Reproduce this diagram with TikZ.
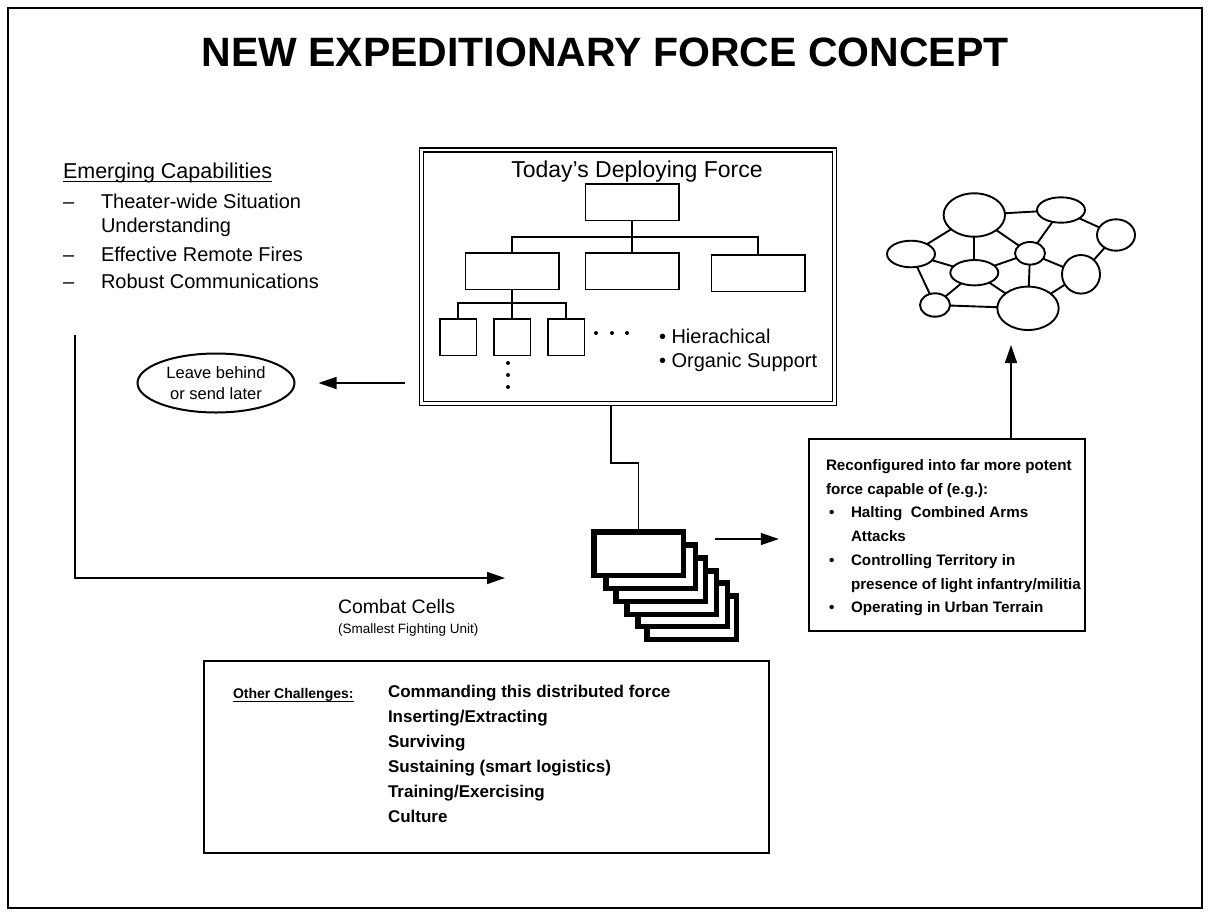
\documentclass[tikz,border=0pt]{standalone}
\usepackage{fontspec}
\setmainfont{Liberation Sans}
\usetikzlibrary{arrows.meta,shapes.geometric}
\begin{document}
\begin{tikzpicture}[x=1pt,y=-1pt,
  every node/.style={inner sep=0pt, outer sep=0pt},
  orgbox/.style={draw, line width=1.5pt, minimum width=93.5pt, minimum height=36.5pt},
  sqbox/.style={draw, line width=1.5pt, minimum width=36.5pt, minimum height=36.5pt},
  orgline/.style={line width=1.2pt},
  arr/.style={line width=1.5pt, -{Triangle[length=18pt,width=12pt]}},
  blob/.style={draw, ellipse, line width=1.9pt},
  netline/.style={line width=1.9pt},
  card/.style={draw, fill=white, line width=5.5pt, minimum width=89.5pt, minimum height=43.5pt},
  panel/.style={draw, line width=1.6pt},
  txt/.style={anchor=base west},
]
\useasboundingbox (0,0) rectangle (1210,916);
\draw[line width=2pt] (8,8) rectangle (1202,908);

% title
\node[anchor=base, font=\bfseries\fontsize{41}{49}\selectfont] (title) at (605,66) {NEW EXPEDITIONARY FORCE CONCEPT};

% emerging capabilities
\node[txt, font=\fontsize{21.5}{25}\selectfont] (ec) at (63,178) {Emerging Capabilities};
\draw[line width=1pt] ([yshift=-3.5pt]ec.base west) -- ([yshift=-3.5pt]ec.base east);
\node[txt, font=\fontsize{20}{24}\selectfont] (e1d) at (63,208) {–};
\node[txt, font=\fontsize{20}{24}\selectfont] (e1) at (101,208) {Theater-wide Situation};
\node[txt, font=\fontsize{20}{24}\selectfont] (e1b) at (101,232) {Understanding};
\node[txt, font=\fontsize{20}{24}\selectfont] (e2d) at (63,261.5) {–};
\node[txt, font=\fontsize{20}{24}\selectfont] (e2) at (101,261.5) {Effective Remote Fires};
\node[txt, font=\fontsize{20}{24}\selectfont] (e3d) at (63,288.5) {–};
\node[txt, font=\fontsize{20}{24}\selectfont] (e3) at (101,288.5) {Robust Communications};

% today's deploying force
\node[draw, double, line width=1.5pt, double distance=2.5pt, minimum width=413pt, minimum height=253.5pt] (today) at (628,276.5) {};
\node[anchor=base, font=\fontsize{23}{28}\selectfont] (todaytitle) at (637,177) {Today’s Deploying Force};
\node[orgbox] (top) at (632,202) {};
\node[orgbox] (m1) at (512,271) {};
\node[orgbox] (m2) at (632,271) {};
\node[orgbox] (m3) at (758,273) {};
\node[sqbox] (s1) at (458,337) {};
\node[sqbox] (s2) at (512,337) {};
\node[sqbox] (s3) at (566,337) {};
\coordinate (bus1) at (0,237);
\coordinate (bus2) at (0,303);
\draw[orgline] (top.south) -- (top.south |- bus1);
\draw[orgline] (m1.north) |- (m3.north |- bus1) -- (m3.north);
\draw[orgline] (m2.north) -- (m2.north |- bus1);
\draw[orgline] (m1.south) -- (m1.south |- bus2);
\draw[orgline] (s1.north) |- (s3.north |- bus2) -- (s3.north);
\draw[orgline] (s2.north) -- (s2.north |- bus2);
\fill (596,333) circle (2pt) (612,333) circle (2pt) (627,333) circle (2pt);
\fill (508,363) circle (2pt) (508,375) circle (2pt) (508,387) circle (2pt);
\node[txt, font=\fontsize{20}{24}\selectfont] (b1) at (659,343) {\textbullet\ Hierachical};
\node[txt, font=\fontsize{20}{24}\selectfont] (b2) at (659,367) {\textbullet\ Organic Support};

% leave behind
\node[blob, line width=2pt, minimum width=157pt, minimum height=59pt, align=center, font=\fontsize{16.5}{21}\selectfont] (leave) at (216,383) {Leave behind\\or send later};
\draw[arr, shorten <=16.5pt, shorten >=24pt] (today.west |- leave) -- (leave.east);

% network
\node[blob, minimum width=61.4pt, minimum height=43.4pt] (n1) at (974.3,215) {};
\node[blob, minimum width=48pt, minimum height=25.4pt] (n2) at (1061,210) {};
\node[blob, minimum width=38pt, minimum height=31.4pt] (n3) at (1116,235) {};
\node[blob, minimum width=48pt, minimum height=26.6pt] (n4) at (911,254) {};
\node[blob, minimum width=30pt, minimum height=22.6pt] (n5) at (1030,253.3) {};
\node[blob, minimum width=48pt, minimum height=25.4pt] (n6) at (974.3,272.7) {};
\node[blob, minimum width=38pt, minimum height=38.6pt] (n7) at (1081,274.3) {};
\node[blob, minimum width=30pt, minimum height=23.4pt] (n8) at (935,305) {};
\node[blob, minimum width=61.4pt, minimum height=43.4pt] (n9) at (1028,308.3) {};
\foreach \a/\b in {n1/n2,n1/n4,n1/n6,n1/n5,n2/n5,n2/n3,n3/n7,n4/n6,n4/n8,n6/n5,n6/n8,n6/n9,n5/n9,n5/n7,n7/n9,n8/n9}
  \draw[netline] (\a) -- (\b);

% combat cells
\coordinate (lstart) at (75,335);
\coordinate (ltip) at (505,578);
\draw[arr] (lstart) |- (ltip);
\node[txt, font=\fontsize{19.5}{23}\selectfont] (cc) at (338,613) {Combat Cells};
\node[txt, font=\fontsize{13.5}{16}\selectfont] (ccs) at (338,633) {(Smallest Fighting Unit)};

\node[card] (c5) at (691.5,617.5) {};
\node[card] (c4) at (682.5,604.5) {};
\node[card] (c3) at (671.5,592.5) {};
\node[card] (c2) at (660.5,579.5) {};
\node[card] (c1) at (650.5,566.5) {};
\draw[orgline] ([xshift=-17pt,yshift=-2.75pt]today.south) -- ++(0,57) -| (638.5,531.75) coordinate (c0top);
\node[card] (c0) at (638.5,553.5) {};

% reconfigured box
\node[panel, minimum width=276.4pt, minimum height=192.4pt] (recon) at (947,535) {};
\node[anchor=north west, align=left, font=\bfseries\fontsize{15.2}{23.7}\selectfont] (recontext) at (826,459.5)
  {Reconfigured into far more potent\\
   force capable of (e.g.):\\
   \makebox[25pt][l]{\hspace{3pt}\textbullet}Halting\ \ Combined Arms\\
   \hspace*{25pt}Attacks\\
   \makebox[25pt][l]{\hspace{3pt}\textbullet}Controlling Territory in\\
   \hspace*{25pt}presence of light infantry/militia\\
   \makebox[25pt][l]{\hspace{3pt}\textbullet}Operating in Urban Terrain};
\path ([xshift=31.75pt,yshift=14.5pt]c0.east) coordinate (ra);
\draw[arr, shorten >=30pt] (ra) -- (ra -| recon.west);
\coordinate (uptip) at (1011,345);
\draw[arr] ([xshift=64pt]recon.north) -- (uptip);

% other challenges
\node[panel, minimum width=565.4pt, minimum height=192.4pt] (other) at (486.5,757) {};
\node[txt, font=\bfseries\fontsize{14}{25}\selectfont] (oc) at (233,698) {Other Challenges:};
\draw[line width=1pt] ([yshift=-3pt]oc.base west) -- ([yshift=-3pt]oc.base east);
\node[anchor=north west, align=left, font=\bfseries\fontsize{17}{25}\selectfont] (items) at (388,685.5)
  {Commanding this distributed force\\
   Inserting/Extracting\\
   Surviving\\
   Sustaining (smart logistics)\\
   Training/Exercising\\
   Culture};
\end{tikzpicture}
\end{document}
